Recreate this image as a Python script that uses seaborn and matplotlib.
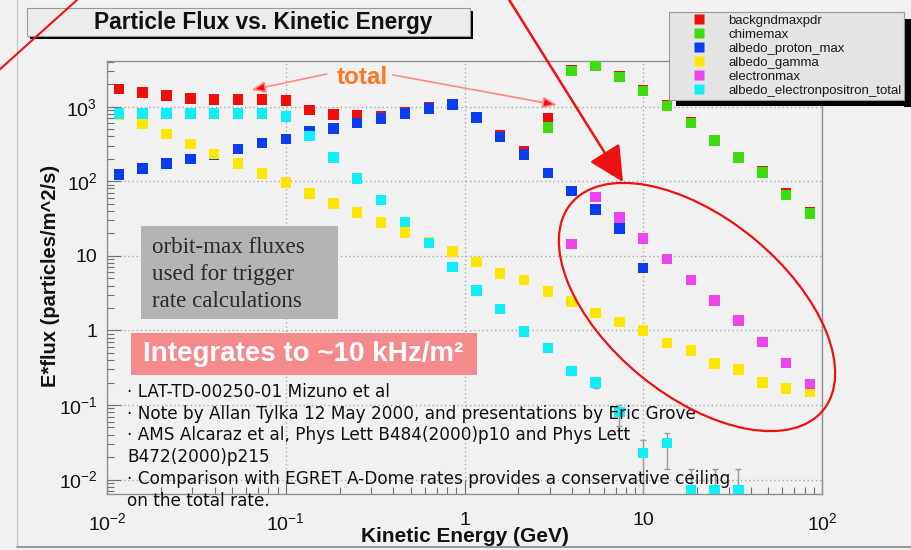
import numpy as np
import pandas as pd
import matplotlib
matplotlib.use("Agg")
import matplotlib.pyplot as plt
import seaborn as sns
from matplotlib.patches import Rectangle, Ellipse, FancyArrowPatch
from matplotlib.lines import Line2D
from matplotlib.transforms import Affine2D
from matplotlib.ticker import LogLocator, FuncFormatter, NullFormatter

W, H = 911, 550
BG = "#f1f1f1"

# Kinetic energy bin centres (GeV)
energy = [0.0117, 0.0158, 0.0215, 0.0293, 0.0398, 0.0541, 0.0736, 0.100, 0.136, 0.185,
          0.251, 0.341, 0.464, 0.631, 0.858, 1.17, 1.58, 2.15, 2.93, 3.98,
          5.41, 7.36, 10.0, 13.6, 18.5, 25.1, 34.1, 46.4, 63.1, 85.8]

nan = np.nan
# E*flux (particles/m^2/s) per source
backgndmaxpdr = [1730, 1560, 1405, 1297, 1257, 1257, 1257, 1204, 903, 785,
                 770, 750, 830, 990, 1090, 730, 410, 252, 700, 3110,
                 3680, 2570, 1650, 1040, 610, 360, 212, 136, 70, 38]
chimemax = [nan, nan, nan, nan, nan, nan, nan, nan, nan, nan,
            nan, nan, nan, nan, nan, nan, nan, nan, 525, 3020,
            3590, 2510, 1620, 1020, 600, 352, 207, 132, 65, 36.7]
albedo_proton_max = [123, 148, 172, 199, 230, 270, 325, 371, 464, 509,
                     600, 692, 816, 952, 1063, 713, 395, 230, 130, 73.6,
                     42, 23.2, 6.9, nan, nan, nan, nan, nan, nan, nan]
albedo_gamma = [790, 586, 428, 318, 232, 172, 127, 95.6, 68.6, 50.5,
                38, 27.9, 20.5, 15, 11.4, 8.3, 5.82, 4.74, 3.31, 2.44,
                1.72, 1.29, 1.0, 0.68, 0.54, 0.36, 0.30, 0.20, 0.167, 0.15]
electronmax = [nan, nan, nan, nan, nan, nan, nan, nan, nan, nan,
               nan, nan, nan, nan, nan, nan, nan, nan, nan, 14.3,
               62, 32.6, 17.2, 9.1, 4.74, 2.51, 1.36, 0.70, 0.367, 0.19]
albedo_electronpositron_total = [810, 812, 815, 815, 815, 815, 815, 740, 405, 209,
                                 109, 55.8, 28.4, 14.8, 7.13, 3.41, 1.95, 0.97, 0.58, 0.287,
                                 0.20, 0.081, 0.0227, 0.031, 0.0072, 0.0072, 0.0072, nan, nan, nan]

# statistical error range on the high-energy electron/positron points
err_energy = [3.98, 5.41, 7.36, 10.0, 13.6, 18.5, 25.1, 34.1]
err_value = [0.287, 0.20, 0.081, 0.0227, 0.031, 0.0072, 0.0072, 0.0072]
err_low = [0.25, 0.17, 0.053, 0.005, 0.014, 0.005, 0.005, 0.005]
err_high = [0.33, 0.23, 0.099, 0.0336, 0.042, 0.014, 0.014, 0.014]

sources = ["backgndmaxpdr", "chimemax", "albedo_proton_max", "albedo_gamma",
           "electronmax", "albedo_electronpositron_total"]
series = [backgndmaxpdr, chimemax, albedo_proton_max, albedo_gamma,
          electronmax, albedo_electronpositron_total]
colors = ["#f20d0d", "#3ddc10", "#0a3cf0", "#ffe600", "#ee44ee", "#10eef8"]

df = pd.concat([pd.DataFrame({"energy": energy, "flux": vals, "source": name})
                for name, vals in zip(sources, series)]).dropna()

sns.set_style("ticks")
plt.rcParams.update({
    "font.family": ["Liberation Sans", "DejaVu Sans"],
    "mathtext.fontset": "custom",
    "mathtext.rm": "Liberation Sans",
    "mathtext.it": "Liberation Sans:italic",
    "mathtext.bf": "Liberation Sans:bold",
})

fig = plt.figure(figsize=(W / 100, H / 100), dpi=100, facecolor=BG)
ax = fig.add_axes([107 / W, 1 - 494 / H, (822 - 107) / W, (494 - 61) / H])
ax.set_facecolor(BG)

# pixel coordinates (origin top-left) for the slide decorations
px = Affine2D().scale(1 / W, -1 / H).translate(0, 1) + fig.transFigure

ax.set_xscale("log")
ax.set_yscale("log")
ax.set_xlim(0.01, 100)
ax.set_ylim(0.0064, 4100)

ax.grid(True, which="major", color="#a8a8a8", linestyle=(0, (1, 2)), linewidth=1)
ax.set_axisbelow(True)

ax.errorbar(err_energy, err_value,
            yerr=[np.array(err_value) - np.array(err_low), np.array(err_high) - np.array(err_value)],
            fmt="none", ecolor="#9a9a9a", elinewidth=1, capsize=2, capthick=1, zorder=2)

sns.scatterplot(data=df, x="energy", y="flux", hue="source", hue_order=sources,
                palette=dict(zip(sources, colors)), marker="s", s=57, linewidth=0,
                legend=False, ax=ax, zorder=3)


def decade_label(v, pos):
    e = int(round(np.log10(v)))
    if e == 0:
        return "1"
    if e == 1:
        return "10"
    return r"$10^{%d}$" % e


for axis in (ax.xaxis, ax.yaxis):
    axis.set_major_locator(LogLocator(base=10, numticks=20))
    axis.set_minor_locator(LogLocator(base=10, subs=np.arange(2, 10), numticks=20))
    axis.set_major_formatter(FuncFormatter(decade_label))
    axis.set_minor_formatter(NullFormatter())

ax.tick_params(which="both", direction="in", color="#707070", width=0.8,
               top=False, right=False, labelcolor="#111111", labelsize=14)
ax.tick_params(which="major", length=10)
ax.tick_params(which="minor", length=5)
ax.tick_params(axis="y", pad=7)
ax.tick_params(axis="x", pad=13)
for s in ax.spines.values():
    s.set_color("#909090")
    s.set_linewidth(1)

ax.set_xlabel("")
ax.set_ylabel("")
fig.text(465 / W, 1 - 537 / H, "Kinetic Energy (GeV)", ha="center", va="center",
         fontsize=15, fontweight="bold", color="#111111")
fig.text(51 / W, 1 - 276 / H, "E*flux (particles/m^2/s)", ha="center", va="center",
         rotation=90, fontsize=14.5, fontweight="bold", color="#111111")

# title box with drop shadow
fig.add_artist(Rectangle((30, 11), 443, 28, transform=px, facecolor="black",
                         edgecolor="none", zorder=4))
fig.add_artist(Rectangle((27, 8), 443, 28, transform=px, facecolor="#ececec",
                         edgecolor="#9a9a9a", linewidth=0.8, zorder=4.5))
fig.text(263 / W, 1 - 23 / H, "Particle Flux vs. Kinetic Energy", ha="center", va="center",
         fontsize=16.4, fontweight="bold", color="#111111", zorder=5)

# legend with drop shadow
handles = [Line2D([], [], linestyle="none", marker="s", markersize=7.4,
                  markerfacecolor=c, markeredgecolor="none") for c in colors]
leg = fig.legend(handles, sources, loc="upper left",
                 bbox_to_anchor=(669 / W, 1 - 11.7 / H), bbox_transform=fig.transFigure,
                 borderaxespad=0, frameon=True, fancybox=False, framealpha=1,
                 facecolor="#e4e4e4", edgecolor="#9a9a9a",
                 prop=dict(family="Liberation Sans", size=9.5),
                 borderpad=0.2, handlelength=4.1, handletextpad=0.2,
                 labelspacing=0.14, handleheight=0.7)
for t in leg.get_texts():
    t.set_color("#1a1a1a")
leg.get_frame().set_linewidth(0.8)
leg.set_zorder(6)
fig.canvas.draw()
bb = leg.get_window_extent(fig.canvas.get_renderer())
lx0, ly0 = bb.x0, H - bb.y1
lx1, ly1 = bb.x1, H - bb.y0
# black shadow bands along the right and bottom edges
fig.add_artist(Rectangle((lx1, ly0 + 7), 7, ly1 - ly0, transform=px,
                         facecolor="#000000", edgecolor="none", alpha=1, zorder=5.8))
fig.add_artist(Rectangle((lx0 + 7, ly1), lx1 - lx0, 6, transform=px,
                         facecolor="#000000", edgecolor="none", alpha=1, zorder=5.8))

# annotation boxes
fig.add_artist(Rectangle((141, 226), 197, 93, transform=px, facecolor="#b4b4b4",
                         edgecolor="none", zorder=4))
for line, base in zip(["orbit-max fluxes", "used for trigger", "rate calculations"],
                      [253, 280, 307.3]):
    fig.text(151.5 / W, 1 - base / H, line, ha="left", va="baseline", fontsize=16.6,
             family="Liberation Serif", color="#2a2a2a", zorder=5)

fig.add_artist(Rectangle((131, 333), 346, 42, transform=px, facecolor="#f58a8a",
                         edgecolor="none", zorder=4))
fig.text(143 / W, 1 - 354 / H, "Integrates to ~10 kHz/m²", ha="left", va="center",
         fontsize=20, fontweight="bold", color="white", zorder=5)

refs = ["· LAT-TD-00250-01 Mizuno et al",
        "· Note by Allan Tylka 12 May 2000, and presentations by Eric Grove",
        "· AMS Alcaraz et al, Phys Lett B484(2000)p10 and Phys Lett",
        "B472(2000)p215",
        "· Comparison with EGRET A-Dome rates provides a conservative ceiling",
        "on the total rate."]
for k, line in enumerate(refs):
    fig.text(127 / W, 1 - (391.7 + 21.9 * k) / H, line, ha="left", va="center",
             fontsize=12.2, family="DejaVu Sans", color="#111111", zorder=5)

# "total" pointers
ax.text(0.27, 2427, "total", ha="center", va="center", fontsize=17.5,
        fontweight="bold", color="#ff7722", zorder=6)
arrow_kw = dict(arrowstyle="-|>,head_length=0.6,head_width=0.25",
                facecolor="#ee1111", edgecolor="#ff8a8a", lw=1.2,
                shrinkA=0, shrinkB=0, mutation_scale=14)
ax.annotate("", xy=(0.0643, 1675), xytext=(0.1697, 2748), arrowprops=arrow_kw,
            annotation_clip=False, zorder=6)
ax.annotate("", xy=(3.285, 1054), xytext=(0.3974, 2665), arrowprops=arrow_kw,
            annotation_clip=False, zorder=6)

# highlight of the high-energy electron region
fig.add_artist(Ellipse((697, 307), 326, 178, angle=39.3, transform=px, fill=False,
                       edgecolor="#ee1111", linewidth=1.6, zorder=7))
fig.add_artist(FancyArrowPatch((508, -2), (623, 182), transform=px,
                               arrowstyle="-|>,head_length=0.4,head_width=0.2",
                               mutation_scale=55, color="#ee1111", linewidth=1.8,
                               shrinkA=0, shrinkB=0, zorder=7))
fig.add_artist(Line2D([77, -2], [0, 71], transform=px, color="#ee1111", linewidth=1.5, zorder=7))

# slide frame lines
fig.add_artist(Line2D([17, 17], [0, 547], transform=px, color="#c8c8c8", linewidth=1, zorder=1))
fig.add_artist(Line2D([17, W], [547, 547], transform=px, color="#8a8a8a", linewidth=1.2, zorder=1))

fig.savefig("out.png", dpi=100, facecolor=BG)
